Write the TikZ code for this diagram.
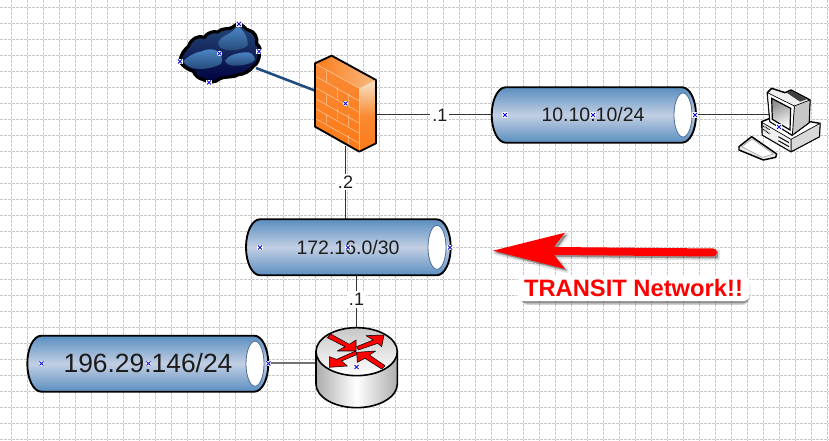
\documentclass[tikz,border=0pt]{standalone}
\usepackage{fontspec}
\setmainfont{Liberation Sans}
\usetikzlibrary{shapes.geometric}
\definecolor{gridc}{HTML}{C8C8C8}
\definecolor{tubeb}{HTML}{5A8EC0}
\definecolor{tubel}{HTML}{C2CFE3}
\definecolor{ink}{HTML}{1C1C1C}
\definecolor{navy}{HTML}{1F4A80}
\definecolor{markc}{HTML}{1010D0}
\definecolor{fwo}{HTML}{FB7A18}
\definecolor{fwl}{HTML}{F5E6CC}
\definecolor{brick}{HTML}{F9C89C}
\definecolor{cldl}{HTML}{4C86C6}
\definecolor{cldm}{HTML}{264A78}
\tikzset{
 gridline/.style={gridc,line width=0.75pt,dash pattern=on 1.95pt off 1.05pt},
 tubebody/.style={draw=black,line width=1.4pt,top color=tubeb,bottom color=tubeb,middle color=tubel},
 tubehole/.style={draw=navy!80!white,line width=0.6pt,fill=white},
 tubetext/.style={text=ink,inner sep=0pt,font=\fontsize{#1}{#1}\selectfont},
 conn/.style={draw=ink!90,line width=0.75pt},
 lbl/.style={fill=white,text=ink,inner sep=1.5pt,font=\fontsize{13.5pt}{14pt}\selectfont},
 outl/.style={draw=black,line width=1.4pt,line join=round},
 brk/.style={draw=brick,line width=0.4pt},
 redarr/.style={fill=red,draw=black,line width=0.4pt,line join=round},
 pcl/.style={draw=black,line width=1.1pt,line join=round},
 blob/.style={top color=cldl,bottom color=cldm},
}
\newcommand{\mk}[1]{\fill[white] (#1) ++(-2.6,-2.6) rectangle ++(5.2,5.2);
 \draw[markc,line width=0.75pt] (#1) ++(-2,-2) -- ++(4,4) (#1) ++(-2,2) -- ++(4,-4);}
% tube: left, right, top, bottom, hole centre x, hole half height
\newcommand{\tube}[6]{%
 \path[tubebody] ({#1+14},#3) -- ({#2-14},#3) arc[start angle=-90,end angle=90,x radius=14,y radius={(#4-#3)/2}] -- ({#1+14},#4) arc[start angle=90,end angle=270,x radius=14,y radius={(#4-#3)/2}] -- cycle;
 \path[tubehole] (#5,{(#3+#4)/2}) ellipse[x radius=9,y radius=#6];}
\begin{document}
\begin{tikzpicture}[x=0.75pt,y=-0.75pt]
\useasboundingbox (0,0) rectangle (829,441);
\fill[white] (0,0) rectangle (829,441);
\foreach \k in {0,...,51} \draw[gridline] ({11.5+16*\k},0) -- ({11.5+16*\k},441);
\foreach \k in {0,...,27} \draw[gridline] (0,{7.5+16*\k}) -- (829,{7.5+16*\k});

% anchors
\coordinate (cloudE) at (256,68);
\coordinate (fwW) at (316,91);
\coordinate (fwE) at (376,115);
\coordinate (fwS) at (345.5,146);
\coordinate (t1W) at (492,115);
\coordinate (t1E) at (696,115);
\coordinate (pcW) at (770,115);
\coordinate (t2N) at (345.5,219.5);
\coordinate (t2S) at (356.5,275);
\coordinate (rtN) at (356.5,328);
\coordinate (t3E) at (268,363.5);
\coordinate (rtW) at (316,363.5);

% connectors
\draw[navy,line width=1.9pt] (cloudE) -- (fwW);
\draw[conn] (fwE) -- node[lbl,pos=0.55] (lb1) {.1} (t1W);
\draw[conn] (t1E) -- (pcW);
\draw[conn] (fwS) -- node[lbl,pos=0.49] (lb2) {.2} (t2N);
\draw[conn] (t2S) -- node[lbl,pos=0.46] (lb3) {.1} (rtN);
\draw[gray!90!black,line width=1.5pt] (t3E) -- (rtW);

% tubes
\tube{491.7}{696}{87.3}{142.7}{683}{22}
\tube{246}{450.7}{219.3}{275.3}{437}{22}
\tube{27.3}{268.3}{335.7}{391.7}{255}{22.5}
\node[tubetext=14.6pt] (t1) at (593,115) {10.10.10/24};
\node[tubetext=14.6pt] (t2) at (348,247.5) {172.16.0/30};
\node[tubetext=19.8pt] (t3) at (148,363.5) {196.29.146/24};

% cloud
\begin{scope}[shift={(175,18)},scale=1/3]
 \path[draw=black,line width=2.4pt,top color=cldm,bottom color=black!75!blue,line join=round]
  (15,130) .. controls (18,105) and (30,95) .. (40,85) .. controls (48,62) and (72,50) .. (88,58)
  .. controls (95,45) and (115,38) .. (128,42) .. controls (140,28) and (165,35) .. (172,28)
  .. controls (180,25) and (185,15) .. (193,17) .. controls (205,20) and (210,35) .. (222,37)
  .. controls (240,40) and (248,60) .. (245,78) .. controls (255,85) and (258,95) .. (253,103)
  .. controls (255,125) and (245,140) .. (235,145) .. controls (225,160) and (205,170) .. (190,170)
  .. controls (175,180) and (145,175) .. (135,182) .. controls (120,195) and (100,195) .. (85,185)
  .. controls (70,182) and (58,170) .. (55,160) .. controls (40,155) and (22,145) .. (15,130) -- cycle;
 \path[blob] (25,130) .. controls (35,118) and (60,102) .. (80,100) .. controls (95,92) and (120,92) .. (128,100)
  .. controls (140,108) and (145,125) .. (138,138) .. controls (115,150) and (85,155) .. (62,152) .. controls (45,150) and (32,142) .. (25,130) -- cycle;
 \path[blob] (130,72) .. controls (135,55) and (165,50) .. (178,35) .. controls (185,25) and (192,25) .. (197,32)
  .. controls (210,45) and (220,60) .. (218,82) .. controls (205,95) and (170,100) .. (150,95) .. controls (138,92) and (128,85) .. (130,72) -- cycle;
 \path[blob] (150,128) .. controls (160,112) and (185,105) .. (210,103) .. controls (225,100) and (238,110) .. (240,125)
  .. controls (232,138) and (205,142) .. (185,143) .. controls (168,145) and (155,140) .. (150,128) -- cycle;
\end{scope}

% firewall
\begin{scope}[shift={(160,0)},scale=1/3]
 \path[top color=fwo!88!white,bottom color=fwo] (465,190) -- (598,265) -- (598,455) -- (465,380) -- cycle;
 \path[top color=fwl,bottom color=fwo,middle color=fwo!85!fwl] (598,265) -- (648,240) -- (648,430) -- (598,455) -- cycle;
 \path[left color=fwo,right color=fwl!60!fwo] (465,190) -- (515,167) -- (648,240) -- (598,265) -- cycle;
 \foreach \y in {228,262,295,325,355} \draw[brk] (465,\y) -- (598,{\y+75});
 \draw[brk] (500,210) -- (500,248) (532,262) -- (532,298) (565,280) -- (565,318) (500,282) -- (500,315) (565,343) -- (565,378) (532,325) -- (532,358) (500,345) -- (500,372) (565,405) -- (565,433) (598,265) -- (598,455) (598,265) -- (648,240) (598,265) -- (465,190);
 \draw[outl] (465,190) -- (515,167) -- (648,240) -- (648,430) -- (598,455) -- (465,380) -- cycle;
\end{scope}

% computer
\begin{scope}[shift={(735,80)},scale=1/3]
 \path[pcl,fill=black!8] (12,200) -- (50,170) -- (125,222) -- (122,232) -- (85,240) -- (12,210) -- cycle;
 \path[draw=black!40,line width=0.4pt,fill=white] (20,200) -- (52,177) -- (115,222) -- (82,232) -- cycle;
 \path[pcl,fill=white] (80,125) -- (105,115) -- (170,165) -- (225,125) -- (255,130) -- (253,170) -- (168,215) -- (82,165) -- cycle;
 \path[draw=black,line width=0.5pt,fill=black!15] (168,178) -- (255,130) -- (253,170) -- (168,215) -- cycle;
 \path[draw=black,line width=0.5pt,fill=black!6] (82,128) -- (168,178) -- (168,215) -- (82,165) -- cycle;
 \draw[black,line width=0.9pt,dash pattern=on 0.6pt off 0.6pt] (85,148) -- (105,162);
 \draw[black,line width=0.9pt,dash pattern=on 0.6pt off 0.6pt] (85,138) -- (105,150);
 \draw[black,line width=0.7pt] (130,170) -- (162,188) (130,182) -- (162,200);
 \path[pcl,fill=black!6] (97,38) -- (110,25) -- (150,38) -- (168,30) -- (225,60) -- (222,128) -- (172,165) -- (105,125) -- cycle;
 \path[draw=black,line width=0.5pt,fill=black!22] (178,78) -- (225,60) -- (222,128) -- (172,165) -- cycle;
 \path[draw=black,line width=0.5pt,fill=white] (97,38) -- (178,78) -- (172,165) -- (105,125) -- cycle;
 \path[fill=black!75] (155,38) -- (168,32) -- (215,58) -- (195,65) -- cycle;
 \path[draw=black,line width=0.9pt,top color=black!45,bottom color=white,shading angle=25] (110,55) -- (167,85) -- (165,150) -- (112,118) -- cycle;
\end{scope}

% router
\begin{scope}[shift={(0,310)},scale=1/3]
 \path[draw=black,line width=1.2pt,left color=black!32,right color=black!32,middle color=white] (948,125) -- (948,222) arc[start angle=180,end angle=0,x radius=122,y radius=71] -- (1192,125) -- cycle;
 \path[draw=black,line width=1.2pt,top color=black!22,bottom color=white] (1070,125) ellipse[x radius=122,y radius=72];
\end{scope}
\begin{scope}[shift={(310,325)},scale=1/3]
 \path[redarr] (52,38) -- (62,27) -- (118,58) -- (138,45) -- (138,78) -- (82,78) -- (105,65) -- cycle;
 \path[redarr] (145,75) -- (140,65) -- (190,45) -- (168,32) -- (222,30) -- (215,65) -- (203,55) -- cycle;
 \path[redarr] (137,78) -- (142,88) -- (95,108) -- (112,123) -- (58,127) -- (58,95) -- (80,103) -- cycle;
 \path[redarr] (225,122) -- (215,132) -- (165,100) -- (142,112) -- (140,82) -- (197,78) -- (178,90) -- cycle;
\end{scope}

% big arrow
\path[fill=black,opacity=0.12,line join=round,draw=black,line width=3pt,shift={(2,2)}] (493,250.7) -- (565,232.7) -- (554,248) -- (716,249) -- (716,256.5) -- (554,255) -- (565,269) -- cycle;
\path[fill=black,opacity=0.25,shift={(2,2)}] (493,250.7) -- (565,232.7) -- (554,248) -- (716,249) -- (716,256.5) -- (554,255) -- (565,269) -- cycle;
\path[fill=red,line join=round] (493,250.7) -- (565,232.7) -- (554,247) -- (713,248.5) arc[start angle=-90,end angle=90,radius=4] -- (554,255) -- (565,269) -- cycle;

% note
\fill[black,opacity=0.18,rounded corners=6pt] (520,278) rectangle (750,305);
\fill[black,opacity=0.3,rounded corners=5pt] (521,279) rectangle (748.5,303.5);
\node[fill=white,rounded corners=5pt,text=red,inner xsep=5pt,inner ysep=3pt,font=\bfseries\fontsize{17.8pt}{18pt}\selectfont] (note) at (633.5,288.5) {TRANSIT Network!!};

% handle marks
\mk{505,115} \mk{593,115} \mk{695,115} \mk{779,127}
\mk{260,247.5} \mk{348,247.5} \mk{450,247.5}
\mk{41.5,363.5} \mk{148.5,363.5} \mk{268.5,363.5} \mk{356.5,367}
\mk{345.5,103.5}
\mk{180,61.5} \mk{239,24} \mk{259,51.5} \mk{209,82.5} \mk{219.5,53.5}
\end{tikzpicture}
\end{document}
